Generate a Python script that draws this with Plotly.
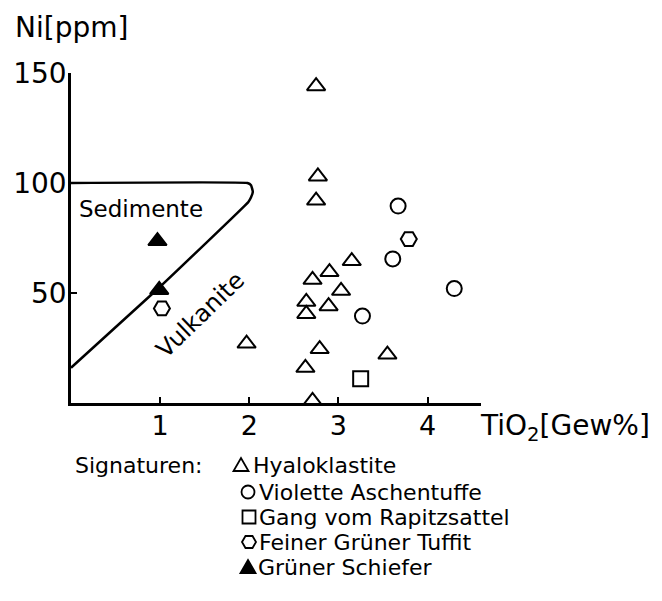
import plotly.graph_objects as go

# ---- data ----
hyalo_x = [2.75, 2.77, 2.75, 3.15, 2.90, 2.71, 3.03, 2.64, 2.89, 2.64, 1.97, 2.79, 3.55, 2.63, 2.71]
hyalo_y = [144, 103, 92, 64.5, 59.5, 56, 51, 46, 44, 40.5, 27, 24.5, 22, 16, 1]

violett_x = [3.67, 3.61, 4.30, 3.27]
violett_y = [89.5, 65.5, 52, 39.5]

gang_x = [3.25]
gang_y = [11]

tuffit_x = [3.79, 1.02]
tuffit_y = [74.5, 43]

schiefer_x = [0.97, 0.99]
schiefer_y = [73.6, 51.4]

boundary_x = [0.0, 1.98, 2.02, 2.04, 2.02, 1.99, 0.99, 0.0]
boundary_y = [100, 100, 99, 96, 93.5, 91.4, 52.5, 16]

x_ticks = [1, 2, 3, 4]
y_ticks = [50, 100, 150]

series_names = ["Hyaloklastite", "Violette Aschentuffe", "Gang vom Rapitzsattel",
                "Feiner Grüner Tuffit", "Grüner Schiefer"]
series_symbols = ["triangle-up-open", "circle-open", "square-open",
                  "hexagon2-open", "triangle-up"]
series_sizes = [16, 15, 15, 16, 16]
legend_title = "Signaturen:"

# ---- layout constants (page pixels) ----
W, H = 662, 601
OFF = 8                      # default body margin of the page
PL, PR, PT, PB = 71, 481, 73, 403
FONT = "DejaVu Sans"
BLACK = "#000000"


def pxx(px):
    return (px - PL) / (PR - PL)


def pxy(py):
    return (PB - py) / (PB - PT)


fig = go.Figure()

fig.add_trace(go.Scatter(x=boundary_x, y=boundary_y, mode="lines",
                         line=dict(color=BLACK, width=2.5, shape="spline", smoothing=0.3),
                         showlegend=False, hoverinfo="skip"))

data = [(hyalo_x, hyalo_y), (violett_x, violett_y), (gang_x, gang_y),
        (tuffit_x, tuffit_y), (schiefer_x, schiefer_y)]
for (x, y), name, sym, size in zip(data, series_names, series_symbols, series_sizes):
    fig.add_trace(go.Scatter(
        x=x, y=y, mode="markers", name=name, cliponaxis=False, showlegend=False,
        marker=dict(symbol=sym, size=size, color=BLACK,
                    line=dict(color=BLACK, width=2))))

# ---- key (legend) ----
row_y = [465, 492, 517, 542, 567]
sym_x = [241, 248, 249, 249, 248]
text_x = [251, 257, 257, 257, 256]
key_paths = [
    "M -7.5,-6 L 7.5,-6 L 0,7 Z",
    None,
    None,
    "M -7,0 L -3.5,6 L 3.5,6 L 7,0 L 3.5,-6 L -3.5,-6 Z",
    "M -7.5,-6 L 7.5,-6 L 0,7 Z",
]
key_fill = [None, None, None, None, BLACK]
for i, name in enumerate(series_names):
    common = dict(xref="paper", yref="paper", xsizemode="pixel", ysizemode="pixel",
                  xanchor=pxx(sym_x[i]), yanchor=pxy(row_y[i]),
                  line=dict(color=BLACK, width=1.8))
    if i == 1:
        fig.add_shape(type="circle", x0=-6.5, x1=6.5, y0=-6.5, y1=6.5, **common)
    elif i == 2:
        fig.add_shape(type="rect", x0=-6.5, x1=6.5, y0=-6.5, y1=6.5, **common)
    else:
        fig.add_shape(type="path", path=key_paths[i],
                      fillcolor=key_fill[i] if key_fill[i] else "rgba(0,0,0,0)",
                      **common)
    fig.add_annotation(text=name, xref="paper", yref="paper",
                       x=pxx(text_x[i]), y=pxy(row_y[i]),
                       xanchor="left", yanchor="middle", showarrow=False,
                       font=dict(size=22, family=FONT))
fig.add_annotation(text=legend_title, xref="paper", yref="paper",
                   x=pxx(73), y=pxy(row_y[0]),
                   xanchor="left", yanchor="middle", showarrow=False,
                   font=dict(size=22, family=FONT))

fig.update_layout(
    width=W - OFF, height=H - OFF, autosize=False,
    margin=dict(l=PL - OFF, r=W - PR, t=PT - OFF, b=H - PB, pad=0, autoexpand=False),
    plot_bgcolor="white", paper_bgcolor="white",
    font=dict(family=FONT, color=BLACK),
    showlegend=False,
    xaxis=dict(range=[0, 4.6], showgrid=False, zeroline=False,
               showline=True, linecolor=BLACK, linewidth=2.5,
               ticks="inside", ticklen=6, tickwidth=2, tickcolor=BLACK,
               tickvals=x_ticks, ticktext=[str(v) for v in x_ticks],
               ticklabelstandoff=-3,
               tickfont=dict(size=27, family=FONT)),
    yaxis=dict(range=[0, 150], showgrid=False, zeroline=False,
               showline=True, linecolor=BLACK, linewidth=2.5,
               ticks="inside", ticklen=6, tickwidth=2, tickcolor=BLACK,
               tickvals=y_ticks, ticktext=[str(v) for v in y_ticks],
               ticklabelstandoff=-4,
               tickfont=dict(size=28, family=FONT)),
)

fig.add_annotation(text="Ni[ppm]", xref="paper", yref="paper",
                   x=pxx(13), y=pxy(28), xanchor="left", yanchor="middle",
                   showarrow=False, font=dict(size=28, family=FONT))
fig.add_annotation(text="TiO<sub>2</sub>[Gew%]", xref="paper", yref="paper",
                   x=pxx(478), y=pxy(427), xanchor="left", yanchor="middle",
                   showarrow=False, font=dict(size=28, family=FONT))
fig.add_annotation(text="Sedimente", xref="x", yref="y",
                   x=0.78, y=88, showarrow=False,
                   font=dict(size=23, family=FONT))
fig.add_annotation(text="Vulkanite", xref="x", yref="y",
                   x=1.45, y=40, showarrow=False, textangle=-44,
                   font=dict(size=24, family=FONT))

fig.write_html("out.html")
